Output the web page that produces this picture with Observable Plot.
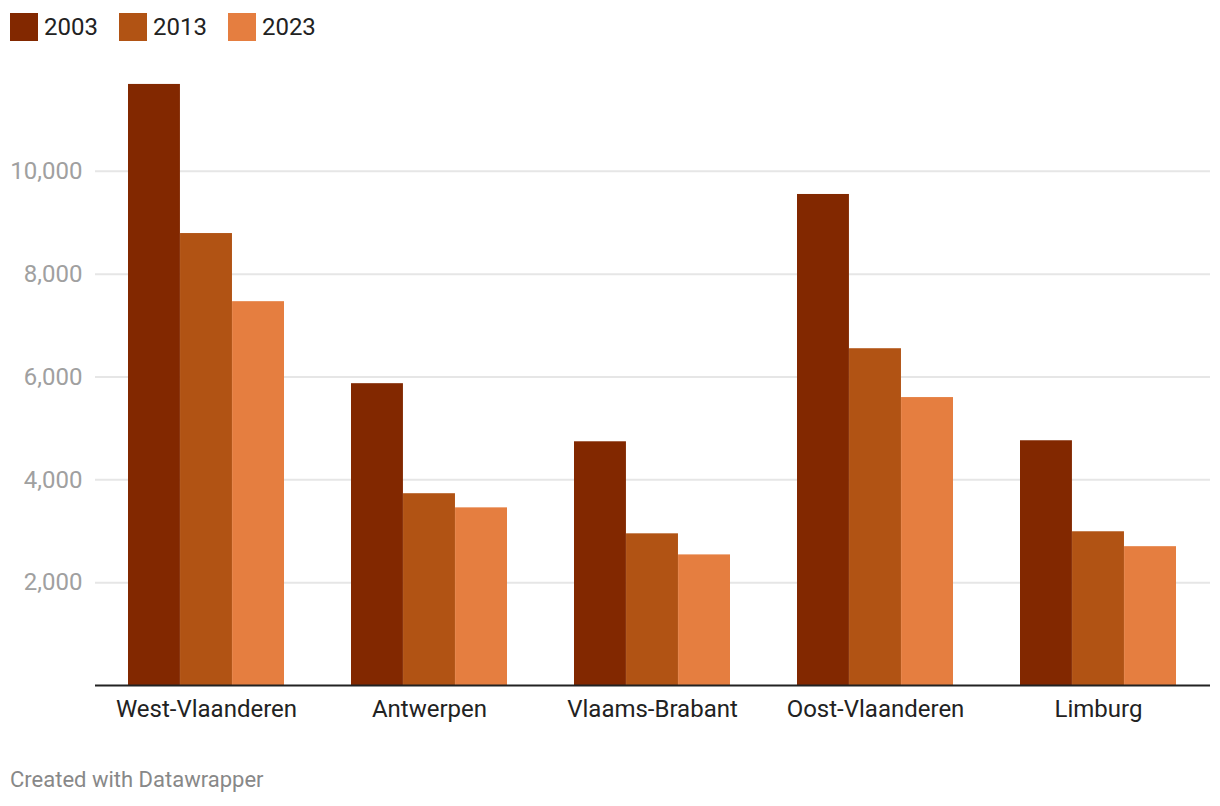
<!DOCTYPE html>
<html>
<head>
<meta charset="utf-8">
<script src="https://cdn.jsdelivr.net/npm/d3@7"></script>
<script src="https://cdn.jsdelivr.net/npm/@observablehq/plot@0.6"></script>
<style>
  html, body { margin: 0; padding: 0; background: #fff; font-family: Roboto, "Noto Sans", sans-serif; }
  #wrap { position: relative; width: 1220px; height: 806px; }
  #legend { position: absolute; left: 10px; top: 11px; display: flex; align-items: center; height: 32px; }
  .item { display: flex; align-items: center; margin-right: 21px; font-size: 24px; color: #222; }
  .sw { width: 28px; height: 28px; margin-right: 6px; }
  #chart { position: absolute; left: 0; top: 56px; }
  #footer { position: absolute; left: 10px; top: 766px; font-size: 22px; line-height: 28px; color: #888; }
</style>
</head>
<body>
<div id="wrap">
  <div id="legend"></div>
  <div id="chart"></div>
  <div id="footer">Created with Datawrapper</div>
</div>
<script>
const regions = ["West-Vlaanderen", "Antwerpen", "Vlaams-Brabant", "Oost-Vlaanderen", "Limburg"];
const years = ["2003", "2013", "2023"];
const v2003 = [11690, 5870, 4740, 9550, 4760];
const v2013 = [8790, 3730, 2950, 6550, 2990];
const v2023 = [7465, 3455, 2540, 5600, 2700];
const colors = ["#822800", "#b15314", "#e57e40"];
const yTicks = [2000, 4000, 6000, 8000, 10000];

const series = [v2003, v2013, v2023];
const data = [];
regions.forEach((r, i) => {
  years.forEach((y, j) => data.push({region: r, year: y, value: series[j][i]}));
});

// legend
const legend = document.getElementById("legend");
years.forEach((y, j) => {
  const it = document.createElement("div");
  it.className = "item";
  const sw = document.createElement("div");
  sw.className = "sw";
  sw.style.background = colors[j];
  it.appendChild(sw);
  it.appendChild(document.createTextNode(y));
  legend.appendChild(it);
});

const W = 1220, ML = 95, MR = 10;
const xOpts = {type: "band", domain: regions, paddingInner: 0.3, paddingOuter: 0.15, range: [ML, W - MR]};
const bw = Plot.scale({x: xOpts}).bandwidth;
const sub = bw / years.length;

const barMarks = years.map((y, j) =>
  Plot.barY(data.filter(d => d.year === y), {
    x: "region", y: "value", fill: colors[j],
    insetLeft: sub * j, insetRight: sub * (years.length - 1 - j)
  })
);

const chart = Plot.plot({
  width: W,
  height: 690,
  marginLeft: ML,
  marginRight: MR,
  marginTop: 12,
  marginBottom: 61,
  style: {fontFamily: "Roboto, sans-serif", background: "#fff"},
  x: {domain: regions, paddingInner: 0.3, paddingOuter: 0.15, label: null, axis: null},
  y: {domain: [0, 12000], axis: null},
  marks: [
    Plot.ruleY(yTicks, {stroke: "#e6e6e6", strokeWidth: 2}),
    ...barMarks,
    Plot.ruleY([0], {stroke: "#222", strokeWidth: 2}),
    Plot.axisY(yTicks, {tickSize: 0, tickPadding: 13, tickFormat: d3.format(","), fontSize: 24, color: "#a0a0a0", label: null}),
    Plot.axisX({anchor: "bottom", tickSize: 0, tickPadding: 14, fontSize: 24, color: "#222", label: null})
  ]
});
document.getElementById("chart").appendChild(chart);
</script>
</body>
</html>
